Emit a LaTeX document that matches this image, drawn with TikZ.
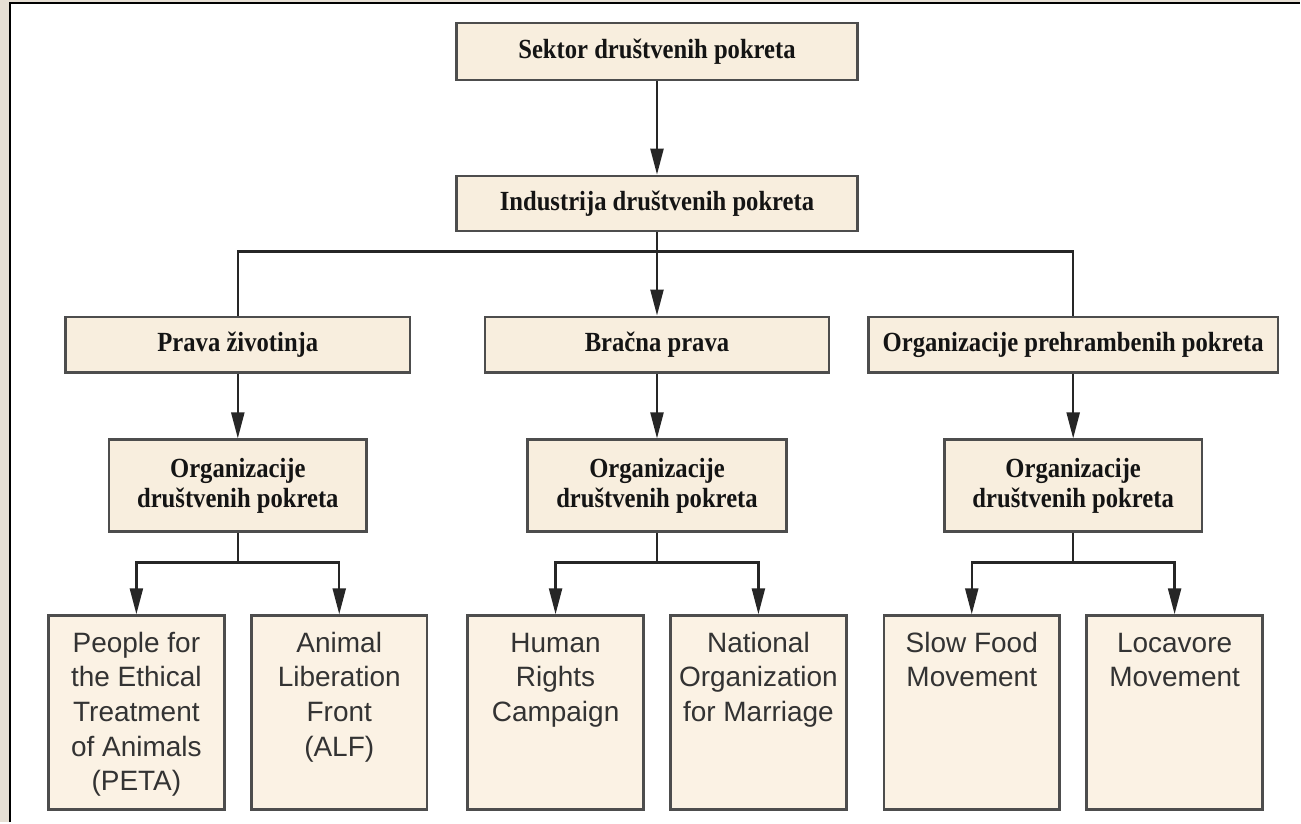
\documentclass[tikz,border=0pt]{standalone}
\usepackage{fontspec}
\setmainfont{Liberation Serif}
\newfontfamily\sansf{Liberation Sans}
\newfontfamily\catfont{Liberation Serif Bold}[FakeStretch=0.89]
\usetikzlibrary{arrows.meta}
\definecolor{outerbg}{HTML}{E6DFD4}
\definecolor{boxfill}{HTML}{F8EEDE}
\definecolor{leaffill}{HTML}{FBF2E4}
\definecolor{boxline}{HTML}{4D4D4D}
\definecolor{conn}{HTML}{262626}
\definecolor{leaftext}{HTML}{333333}
\definecolor{cattext}{HTML}{141414}
\begin{document}
\begin{tikzpicture}[x=1pt,y=-1pt,
  catbox/.style={draw=boxline, line width=2.5pt, fill=boxfill, inner sep=0pt,
    font=\catfont\fontsize{27.7}{29.7}\selectfont, text=cattext, align=center},
  leafbox/.style={draw=boxline, line width=2.5pt, fill=leaffill, inner sep=0pt,
    font=\sansf\fontsize{28}{34.7}\selectfont, text=leaftext},
  tip/.tip={Triangle[length=26pt,width=13pt]},
  arr/.style={draw=conn, line width=2.3pt, -tip},
  twoarr/.style={draw=conn, line width=2.3pt, tip-tip},
  ln/.style={draw=conn, line width=2.3pt},
]
\fill[outerbg] (0,0) rectangle (1301,823);
\fill[white] (10,3.5) rectangle (1301,823);
\draw[black, line width=2pt] (10,823) -- (10,3.5) -- (1301,3.5);
\useasboundingbox (0,0) rectangle (1301,823);

% level 1-2
\node[catbox, minimum width=401pt, minimum height=57pt] (sektor) at (657.5,51.5) {Sektor društvenih pokreta};
\node[catbox, minimum width=401pt, minimum height=55pt] (ind) at (657.5,203.5) {Industrija društvenih pokreta};

% level 3
\node[catbox, minimum width=345pt, minimum height=56pt] (prava) at (238,345) {Prava životinja};
\node[catbox, minimum width=344pt, minimum height=56pt] (bracna) at (657.5,345) {Bračna prava};
\node[catbox, minimum width=410pt, minimum height=56pt] (hrana) at (1074,345) {Organizacije prehrambenih pokreta};

% level 4
\node[catbox, minimum width=258pt, minimum height=92pt] (orgA) at (238,486) {Organizacije\\društvenih pokreta};
\node[catbox, minimum width=259pt, minimum height=92pt] (orgB) at (657.5,486) {Organizacije\\društvenih pokreta};
\node[catbox, minimum width=258pt, minimum height=92pt] (orgC) at (1074,486) {Organizacije\\društvenih pokreta};

% leaves
\node[leafbox] (k1) at (136.5,713) {\parbox[c][194pt][t]{176pt}{\centering\rule{0pt}{36.7pt}People for\\the Ethical\\Treatment\\of Animals\\(PETA)}};
\node[leafbox] (k2) at (339.5,713) {\parbox[c][194pt][t]{176pt}{\centering\rule{0pt}{36.7pt}Animal\\Liberation\\Front\\(ALF)}};
\node[leafbox] (k3) at (556,713) {\parbox[c][194pt][t]{176pt}{\centering\rule{0pt}{36.7pt}Human\\Rights\\Campaign}};
\node[leafbox] (k4) at (759,713) {\parbox[c][194pt][t]{176pt}{\centering\rule{0pt}{36.7pt}National\\Organization\\for Marriage}};
\node[leafbox] (k5) at (972.5,713) {\parbox[c][194pt][t]{176pt}{\centering\rule{0pt}{36.7pt}Slow Food\\Movement}};
\node[leafbox] (k6) at (1175.5,713) {\parbox[c][194pt][t]{176pt}{\centering\rule{0pt}{36.7pt}Locavore\\Movement}};

% coordinates of the buses
\coordinate (busM) at (657.5,251.7);
\coordinate (busA) at (238,563);
\coordinate (busB) at (657.5,563);
\coordinate (busC) at (1074,563);

% connectors
\draw[arr] (sektor) -- (ind);
\draw[ln] (ind.south) -- (busM);
\draw[ln] (prava.north) -- (prava.north |- busM) -- (hrana.north |- busM) -- (hrana.north);
\draw[arr] (busM) -- (bracna);

\draw[arr] (prava) -- (orgA);
\draw[arr] (bracna) -- (orgB);
\draw[arr] (hrana) -- (orgC);

\draw[ln] (orgA.south) -- (busA);
\draw[ln] (orgB.south) -- (busB);
\draw[ln] (orgC.south) -- (busC);
\draw[twoarr] (k1.north) -- (k1.north |- busA) -- (k2.north |- busA) -- (k2.north);
\draw[twoarr] (k3.north) -- (k3.north |- busB) -- (k4.north |- busB) -- (k4.north);
\draw[twoarr] (k5.north) -- (k5.north |- busC) -- (k6.north |- busC) -- (k6.north);
\end{tikzpicture}
\end{document}
